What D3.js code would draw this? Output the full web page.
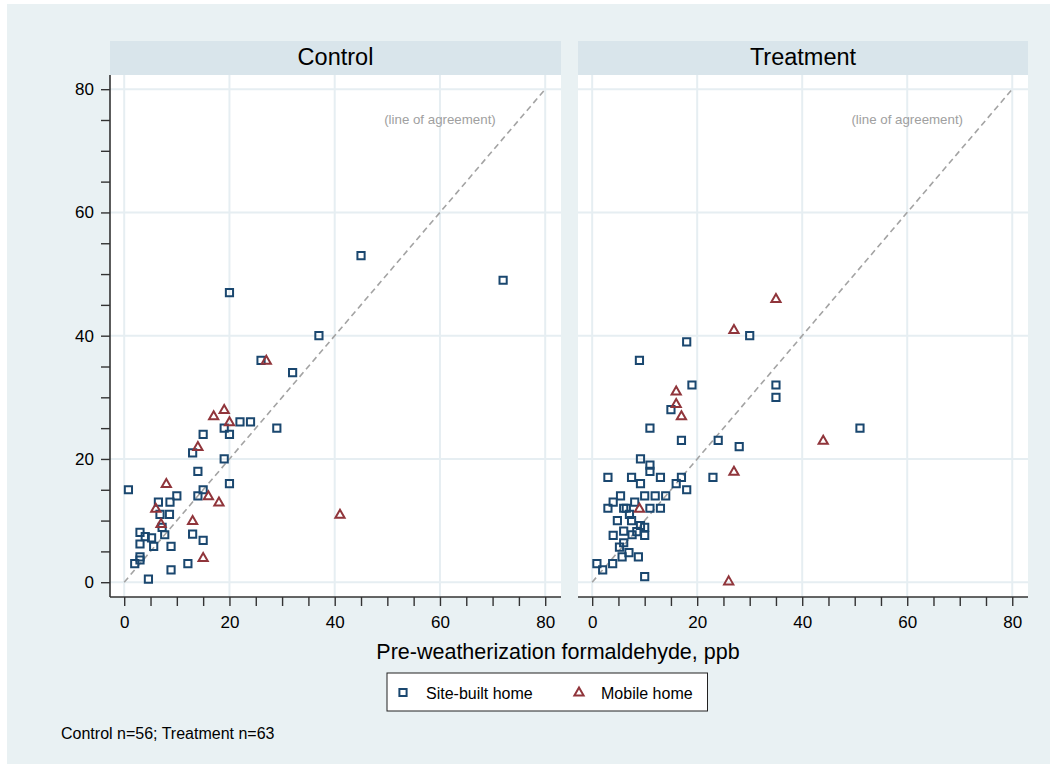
<!DOCTYPE html>
<html><head><meta charset="utf-8">
<script src="https://cdn.jsdelivr.net/npm/d3@7"></script>
<style>body{margin:0;background:#fff}svg{display:block;font-family:Arial,"Liberation Sans",sans-serif}</style>
</head><body>
<svg id="c" width="1050" height="769"></svg>
<script>
// ---- data ----
const panels = ["Control", "Treatment"];
const seriesNames = ["Site-built home", "Mobile home"];
const xTicks = [0, 20, 40, 60, 80];
const yTicks = [0, 20, 40, 60, 80];
// Control: site-built (squares)
const controlSiteX = [45,72,20,37,26,32,22,24,19,29,15,20,13,19,14,0.8,20,15,10,14,6.5,8.7,6.8,8.6,7.2,7.7,3,4,5.2,3,5.6,8.9,13,15,3,3,2,12.1,8.9,4.6];
const controlSiteY = [53,49,47,40,36,34,26,26,25,25,24,24,21,20,18,15,16,15,14,14,13,13,11,11,8.9,7.7,8.1,7.4,7.2,6.2,5.8,5.8,7.8,6.8,4.1,3.6,3,3,2,0.5];
// Control: mobile (triangles)
const controlMobX = [27,19,17,20,14,8,16,18,6,13,7,15,41];
const controlMobY = [36,28,27,26,22,16,14,13,12,10,9.5,4,11];
// Treatment: site-built
const treatSiteX = [30,18,9,19,35,35,15,11,51,17,24,28,9.2,11,11,3,7.5,13,17,23,9.2,16,18,5.4,10,12,14,4,8.1,3,6,6.5,11,13,7.1,4.8,7.5,9.2,10,6,8.5,4,7.6,10,6,5.2,7,5.7,8.8,0.9,3.9,2,10];
const treatSiteY = [40,39,36,32,32,30,28,25,25,23,23,22,20,19,18,17,17,17,17,17,16,16,15,14,14,14,14,13,13,12,12,12,12,12,11,10,10,9.2,8.9,8.3,8.2,7.6,7.7,7.6,6.4,5.7,4.8,4.1,4.1,3,3,2,0.9];
// Treatment: mobile
const treatMobX = [35,27,16,16,17,44,27,9,26];
const treatMobY = [46,41,31,29,27,23,18,12,0.2];
const note = "Control n=56; Treatment n=63";
const xTitle = "Pre-weatherization formaldehyde, ppb";
const agreeLabel = "(line of agreement)";

const data = {
  Control: {site: controlSiteX.map((x,i)=>[x,controlSiteY[i]]), mob: controlMobX.map((x,i)=>[x,controlMobY[i]])},
  Treatment: {site: treatSiteX.map((x,i)=>[x,treatSiteY[i]]), mob: treatMobX.map((x,i)=>[x,treatMobY[i]])}
};

const C_SITE = "#1a476f", C_MOB = "#90353b";
const svg = d3.select("#c");
svg.append("rect").attr("x",7).attr("y",4).attr("width",1043).attr("height",760).attr("fill","#e9f1f3");

const y = d3.scaleLinear().domain([-2.4, 82.3]).range([597, 75]);
const panelRanges = {Control:[110,561], Treatment:[578,1028]};
const squarePath = "M-3.6,-3.6H3.6V3.6H-3.6Z";
const triPath = "M0,-4.6L4.6,3.4H-4.6Z";

panels.forEach((p, pi) => {
  const [x0, x1] = panelRanges[p];
  const x = d3.scaleLinear().domain([-2.7, 83]).range([x0, x1]);
  const g = svg.append("g");
  // header
  g.append("rect").attr("x",x0).attr("y",41).attr("width",x1-x0).attr("height",34).attr("fill","#d9e5eb");
  g.append("text").attr("x",(x0+x1)/2).attr("y",65).attr("text-anchor","middle").attr("font-size",23.5).attr("fill","#000").text(p);
  // plot region
  g.append("rect").attr("x",x0).attr("y",75).attr("width",x1-x0).attr("height",522).attr("fill","#fff");
  // grid
  g.selectAll(".vg").data(xTicks).join("line").attr("x1",d=>x(d)).attr("x2",d=>x(d)).attr("y1",75).attr("y2",597)
    .attr("stroke","#e6eef2").attr("stroke-width",2);
  g.selectAll(".hg").data(yTicks).join("line").attr("y1",d=>y(d)).attr("y2",d=>y(d)).attr("x1",x0).attr("x2",x1)
    .attr("stroke","#e6eef2").attr("stroke-width",2);
  // agreement line
  g.append("line").attr("x1",x(0)).attr("y1",y(0)).attr("x2",x(80)).attr("y2",y(80))
    .attr("stroke","#a3a3a3").attr("stroke-width",1.6).attr("stroke-dasharray","6,4");
  g.append("text").attr("x",x(60)).attr("y",y(75)+4.5).attr("text-anchor","middle").attr("font-size",13.3).attr("fill","#a0a0a0").text(agreeLabel);
  // points
  g.selectAll(".sq").data(data[p].site).join("path").attr("d",squarePath)
    .attr("transform",d=>`translate(${x(d[0])},${y(d[1])})`).attr("fill","none").attr("stroke",C_SITE).attr("stroke-width",2);
  g.selectAll(".tr").data(data[p].mob).join("path").attr("d",triPath)
    .attr("transform",d=>`translate(${x(d[0])},${y(d[1])})`).attr("fill","none").attr("stroke",C_MOB).attr("stroke-width",2);
  // x axis
  const xa = g.append("g").attr("transform","translate(0,597)")
    .call(d3.axisBottom(x).tickValues(d3.range(0,81,5)).tickSize(9).tickPadding(10).tickFormat(d=>d%20===0?d:""));
  xa.select(".domain").attr("d",`M${x0},0H${x1}`).attr("stroke","#333").attr("stroke-width",1.6);
  xa.selectAll(".tick line").attr("stroke","#333").attr("stroke-width",1.4);
  xa.selectAll("text").attr("font-size",17).attr("fill","#000").attr("font-family","Arial,'Liberation Sans',sans-serif");
  if (pi === 0) {
    const ya = g.append("g").attr("transform",`translate(${x0},0)`)
      .call(d3.axisLeft(y).tickValues(d3.range(0,81,5)).tickSize(9).tickPadding(7).tickFormat(d=>d%20===0?d:""));
    ya.select(".domain").attr("d",`M0,75V597`).attr("stroke","#333").attr("stroke-width",1.6);
    ya.selectAll(".tick line").attr("stroke","#333").attr("stroke-width",1.4);
    ya.selectAll("text").attr("font-size",17).attr("fill","#000").attr("font-family","Arial,'Liberation Sans',sans-serif");
  }
});

// x title
svg.append("text").attr("x",558).attr("y",659).attr("text-anchor","middle").attr("font-size",21.5).attr("fill","#000").text(xTitle);

// legend
const lg = svg.append("g");
lg.append("rect").attr("x",387).attr("y",673).attr("width",320.5).attr("height",38).attr("fill","#fff").attr("stroke","#222").attr("stroke-width",1);
lg.append("path").attr("d",squarePath).attr("transform","translate(403,692.5)").attr("fill","none").attr("stroke",C_SITE).attr("stroke-width",2);
lg.append("text").attr("x",426).attr("y",698.5).attr("font-size",16).text(seriesNames[0]);
lg.append("path").attr("d",triPath).attr("transform","translate(579,692)").attr("fill","none").attr("stroke",C_MOB).attr("stroke-width",2);
lg.append("text").attr("x",601).attr("y",698.5).attr("font-size",16).text(seriesNames[1]);

// note
svg.append("text").attr("x",61).attr("y",739).attr("font-size",16).text(note);
</script>
</body></html>
